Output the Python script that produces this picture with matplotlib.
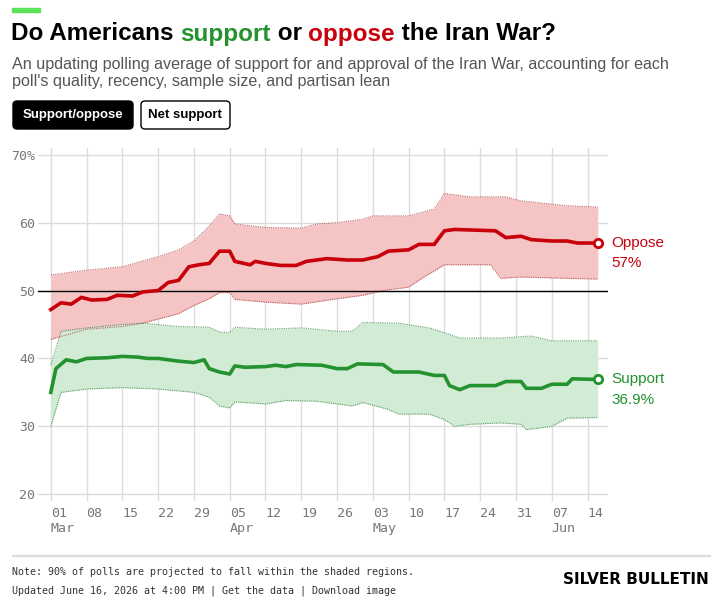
import matplotlib
matplotlib.use("Agg")
import matplotlib.pyplot as plt
from matplotlib.patches import FancyBboxPatch, Rectangle
from matplotlib.offsetbox import HPacker, TextArea, AnchoredOffsetbox
from matplotlib.transforms import ScaledTranslation
import pandas as pd

opp_d = ["03-01","03-03","03-05","03-07","03-09","03-12","03-14","03-17","03-19","03-22","03-24","03-26","03-28","03-30","04-01","04-03","04-05","04-06","04-09","04-10","04-12","04-15","04-18","04-20","04-24","04-28","05-01","05-04","05-06","05-10","05-12","05-15","05-17","05-19","05-27","05-29","06-01","06-03","06-07","06-10","06-12","06-16"]
opp_v = [47.2,48.2,48,49,48.6,48.7,49.3,49.2,49.8,50,51.2,51.5,53.5,53.8,54,55.8,55.8,54.3,53.8,54.3,54,53.7,53.7,54.3,54.7,54.5,54.5,55,55.8,56,56.8,56.8,58.8,59,58.8,57.8,58,57.5,57.3,57.3,57,57]
opu_d = ["03-01","03-08","03-15","03-22","03-26","03-29","04-01","04-03","04-05","04-06","04-12","04-19","04-22","04-26","05-01","05-03","05-10","05-15","05-17","05-22","05-29","06-01","06-10","06-16"]
opu_v = [52.3,53,53.5,55,56,57.3,59.5,61.3,61,59.8,59.3,59.2,59.8,60,60.5,61,61,62,64.3,63.8,63.8,63.2,62.5,62.3]
opl_d = ["03-01","03-08","03-15","03-19","03-26","03-29","04-01","04-03","04-05","04-06","04-12","04-19","04-26","05-01","05-05","05-10","05-13","05-17","05-26","05-28","06-01","06-10","06-16"]
opl_v = [42.8,44.3,44.7,45.2,46.6,47.8,48.8,49.7,49.7,48.7,48.3,48,48.8,49.3,50,50.5,52,53.8,53.8,51.8,52,51.8,51.7]
sup_d = ["03-01","03-02","03-04","03-06","03-08","03-12","03-15","03-18","03-20","03-22","03-26","03-29","03-31","04-01","04-03","04-05","04-06","04-08","04-12","04-14","04-16","04-18","04-23","04-26","04-28","04-30","05-05","05-07","05-12","05-15","05-17","05-18","05-20","05-22","05-27","05-29","06-01","06-02","06-05","06-07","06-10","06-11","06-16"]
sup_v = [35,38.5,39.8,39.5,40,40.1,40.3,40.2,40,40,39.6,39.4,39.8,38.5,38,37.7,38.9,38.7,38.8,39,38.8,39.1,39,38.5,38.5,39.2,39.1,38,38,37.5,37.5,36,35.4,36,36,36.6,36.6,35.6,35.6,36.2,36.2,37,36.9]
spu_d = ["03-01","03-03","03-08","03-15","03-19","03-26","04-01","04-03","04-05","04-06","04-12","04-19","04-26","04-29","05-01","05-08","05-14","05-17","05-20","05-28","06-03","06-07","06-16"]
spu_v = [39,44,44.5,45,45.2,44.7,44.6,43.9,43.8,44.6,44.3,44.5,44,44,45.3,45.2,44.5,43.8,43,43,43.3,42.6,42.6]
spl_d = ["03-01","03-03","03-08","03-15","03-22","03-29","04-01","04-03","04-05","04-06","04-12","04-16","04-22","04-29","05-01","05-06","05-08","05-14","05-17","05-19","05-22","05-28","06-01","06-02","06-07","06-10","06-16"]
spl_v = [30,35,35.5,35.7,35.5,35,34.3,33,32.7,33.6,33.3,33.8,33.7,33,33.5,32.5,31.8,31.8,31,30,30.3,30.5,30.3,29.5,30,31.2,31.3]

def dt(l): return pd.to_datetime(["2026-" + s for s in l])

RED, GREEN = "#c8000a", "#23922f"
SANS = "Liberation Sans"
fig = plt.figure(figsize=(7.2, 6.12), dpi=100)
ax = fig.add_axes([38/720, 1-501/612, 570/720, 353/612])

def band(ud, uv, ld, lv, col, fc):
    u = pd.Series(uv, index=dt(ud)); l = pd.Series(lv, index=dt(ld))
    idx = u.index.union(l.index)
    u2 = u.reindex(idx).interpolate(method="time"); l2 = l.reindex(idx).interpolate(method="time")
    ax.fill_between(idx, l2, u2, color=fc, lw=0, zorder=1)
    ax.plot(u.index, u.values, ls=(0, (1, 1)), color=col, lw=0.8, alpha=0.7, zorder=2)
    ax.plot(l.index, l.values, ls=(0, (1, 1)), color=col, lw=0.8, alpha=0.7, zorder=2)
band(opu_d, opu_v, opl_d, opl_v, "#a03030", "#f5c4c4")
band(spu_d, spu_v, spl_d, spl_v, "#2a7a35", "#d2ebd5")
ax.plot(dt(opp_d), opp_v, color=RED, lw=2.6, zorder=4)
ax.plot(dt(sup_d), sup_v, color=GREEN, lw=2.6, zorder=4)
ax.plot(dt(opp_d)[-1:], opp_v[-1:], "o", ms=6, mfc="white", mec=RED, mew=2, zorder=5)
ax.plot(dt(sup_d)[-1:], sup_v[-1:], "o", ms=6, mfc="white", mec=GREEN, mew=2, zorder=5)
ax.axhline(50, color="black", lw=1, zorder=3)
off = ScaledTranslation(3/100, -10/100, fig.dpi_scale_trans)
ax.text(1.0, (opp_v[-1] - 19) / 52, "Oppose\n57%", transform=ax.transAxes + off, color=RED, fontsize=11, va="center", linespacing=1.55, family=SANS)
ax.text(1.0, (sup_v[-1] - 19) / 52, "Support\n36.9%", transform=ax.transAxes + off, color=GREEN, fontsize=11, va="center", linespacing=1.55, family=SANS)

ax.set_ylim(19, 71)
ax.set_xlim(pd.Timestamp("2026-02-26 12:00"), pd.Timestamp("2026-06-18"))
ax.set_yticks([20, 30, 40, 50, 60, 70])
ax.set_yticklabels(["20", "30", "40", "50", "60", "70%"], family="DejaVu Sans Mono", color="#777", fontsize=9.5)
ticks = pd.date_range("2026-03-01", "2026-06-14", freq="7D")
ax.set_xticks(ticks)
labs = []
for i, t in enumerate(ticks):
    s = t.strftime("%d")
    if i == 0 or t.month != ticks[i-1].month:
        s += "\n" + t.strftime("%b")
    labs.append(s)
ax.set_xticklabels(labs, family="DejaVu Sans Mono", color="#777", fontsize=9.5, linespacing=1.2, ha="left")
for lab in ax.get_xticklabels():
    lab.set_transform(lab.get_transform() + ScaledTranslation(-6/100, 0, fig.dpi_scale_trans))
ax.grid(True, color="#dcdcdc", lw=1)
ax.set_axisbelow(True)
for s in ax.spines.values(): s.set_visible(False)
ax.tick_params(length=0, pad=4)
ax.yaxis.set_tick_params(pad=2)

fig.add_artist(Rectangle((12/720, 1-12/612), 28/720, 4/612, color="#5be35b", transform=fig.transFigure))
parts = [("Do Americans ", "black"), ("support", GREEN), (" or ", "black"), ("oppose", RED), (" the Iran War?", "black")]
box = HPacker(children=[TextArea(s, textprops=dict(color=c, fontsize=17.5, weight="bold", family=SANS)) for s, c in parts], sep=0, pad=0)
ab = AnchoredOffsetbox(loc="center left", child=box, bbox_to_anchor=(11/720, 1-34/612), bbox_transform=fig.transFigure, frameon=False, pad=0, borderpad=0)
fig.add_artist(ab)
fig.text(12/720, 1-73/612, "An updating polling average of support for and approval of the Iran War, accounting for each\npoll's quality, recency, sample size, and partisan lean", fontsize=11.6, color="#555", va="center", linespacing=1.15, family=SANS)
fig.add_artist(FancyBboxPatch((13/720, 1-129/612), 120/720, 28/612, boxstyle="round,pad=0,rounding_size=0.006", fc="black", ec="black", transform=fig.transFigure))
fig.text(73/720, 1-115/612, "Support/oppose", color="white", fontsize=9.5, weight="bold", ha="center", va="center", family=SANS)
fig.add_artist(FancyBboxPatch((141/720, 1-129/612), 89/720, 28/612, boxstyle="round,pad=0,rounding_size=0.006", fc="white", ec="black", lw=1, transform=fig.transFigure))
fig.text(185/720, 1-115/612, "Net support", color="black", fontsize=9.5, weight="bold", ha="center", va="center", family=SANS)
fig.add_artist(Rectangle((12/720, 1-556/612), 698/720, 0.8/612, color="#dddddd", transform=fig.transFigure))
fig.text(12/720, 1-572/612, "Note: 90% of polls are projected to fall within the shaded regions.", family="DejaVu Sans Mono", fontsize=7.2, color="#333", va="center")
fig.text(12/720, 1-591/612, "Updated June 16, 2026 at 4:00 PM | Get the data | Download image", family="DejaVu Sans Mono", fontsize=7.2, color="#333", va="center")
fig.text(709/720, 1-580/612, "SILVER BULLETIN", fontsize=11, weight="heavy", ha="right", va="center", family="Liberation Sans Narrow")
fig.savefig("out.png", dpi=100, facecolor="white")
